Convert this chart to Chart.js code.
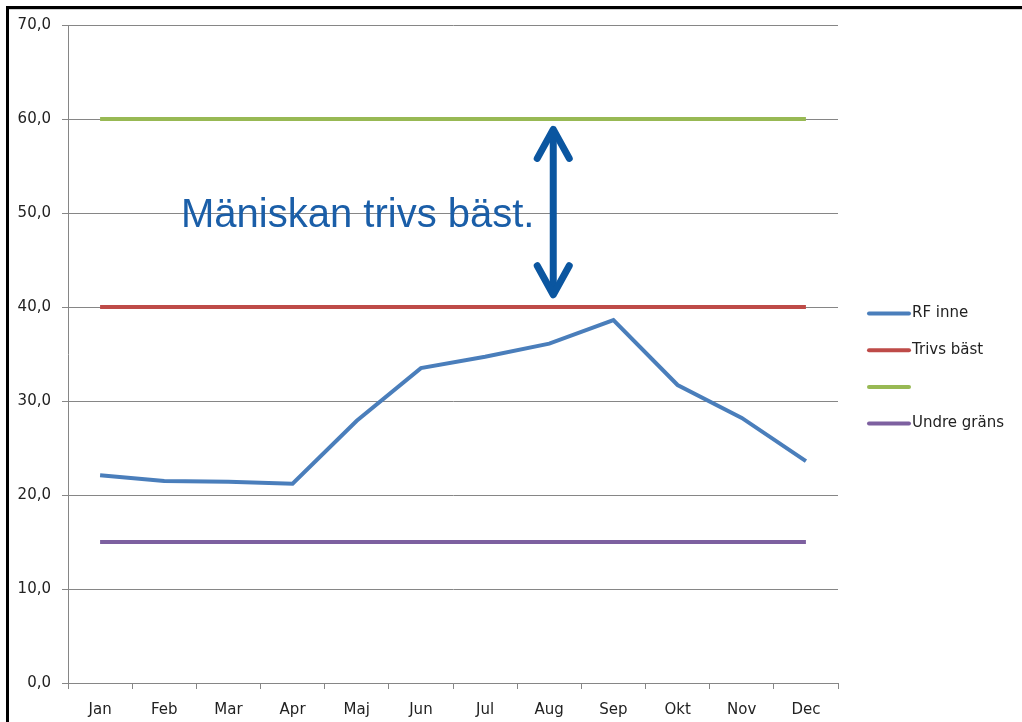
<!DOCTYPE html>
<html>
<head>
<meta charset="utf-8">
<script src="https://cdn.jsdelivr.net/npm/chart.js@4"></script>
<style>
  body { margin: 0; background: #fff; }
  canvas { display: block; }
</style>
</head>
<body>
<canvas id="grafRF" width="1022" height="722"></canvas>
<script>
const manader = ['Jan', 'Feb', 'Mar', 'Apr', 'Maj', 'Jun', 'Jul', 'Aug', 'Sep', 'Okt', 'Nov', 'Dec'];
const rfInne = [22.1, 21.5, 21.4, 21.2, 27.9, 33.5, 34.7, 36.1, 38.6, 31.7, 28.2, 23.6];
const trivsBast = [40, 40, 40, 40, 40, 40, 40, 40, 40, 40, 40, 40];
const ovreGrans = [60, 60, 60, 60, 60, 60, 60, 60, 60, 60, 60, 60];
const undreGrans = [15, 15, 15, 15, 15, 15, 15, 15, 15, 15, 15, 15];
const yTicks = [0, 10, 20, 30, 40, 50, 60, 70];
const anteckning = 'Mäniskan trivs bäst.';

const typsnitt = "'DejaVu Sans', sans-serif";

// ram, pil, text och legend ritas här
const extraRitning = {
  id: 'extraRitning',
  afterDraw(chart) {
    const ctx = chart.ctx;
    const x = chart.scales.x;
    const y = chart.scales.y;
    ctx.save();

    // svart ram uppe och till vänster
    ctx.fillStyle = '#000';
    ctx.fillRect(6, 6, 1016, 3);
    ctx.fillRect(6, 6, 3, 716);
    ctx.fillStyle = '#d0d0d0';
    ctx.fillRect(9, 9, 1013, 1);

    // texten
    ctx.fillStyle = '#1a5ea8';
    ctx.font = "40px 'Liberation Sans', Arial, sans-serif";
    ctx.textBaseline = 'alphabetic';
    ctx.fillText(anteckning, 181, 227);

    // dubbelpil mellan 40 och 60
    const px = x.getPixelForValue(7) + 4;
    const topp = y.getPixelForValue(58.9);
    const botten = y.getPixelForValue(41.3);
    ctx.strokeStyle = '#0b56a0';
    ctx.lineWidth = 7;
    ctx.lineCap = 'round';
    ctx.lineJoin = 'round';
    ctx.beginPath();
    ctx.moveTo(px, topp + 2);
    ctx.lineTo(px, botten - 2);
    ctx.stroke();
    ctx.beginPath();
    ctx.moveTo(px - 16, topp + 29);
    ctx.lineTo(px, topp);
    ctx.lineTo(px + 16, topp + 29);
    ctx.stroke();
    ctx.beginPath();
    ctx.moveTo(px - 16, botten - 29);
    ctx.lineTo(px, botten);
    ctx.lineTo(px + 16, botten - 29);
    ctx.stroke();

    // legend
    ctx.font = '15px ' + typsnitt;
    ctx.textBaseline = 'middle';
    ctx.lineCap = 'round';
    ctx.lineWidth = 4;
    chart.data.datasets.forEach((ds, i) => {
      const ly = 313.5 + i * 36.7;
      ctx.strokeStyle = ds.borderColor;
      ctx.beginPath();
      ctx.moveTo(869, ly);
      ctx.lineTo(909, ly);
      ctx.stroke();
      ctx.fillStyle = '#222';
      ctx.fillText(ds.label, 912, ly);
    });
    ctx.restore();
  }
};

const grafRF = new Chart(document.getElementById('grafRF'), {
  type: 'line',
  data: {
    labels: manader,
    datasets: [
      { label: 'RF inne', data: rfInne, borderColor: '#4a7ebb', borderWidth: 4 },
      { label: 'Trivs bäst', data: trivsBast, borderColor: '#be4b48', borderWidth: 4 },
      { label: '', data: ovreGrans, borderColor: '#98b954', borderWidth: 4 },
      { label: 'Undre gräns', data: undreGrans, borderColor: '#7d60a0', borderWidth: 4 }
    ]
  },
  options: {
    responsive: false,
    animation: false,
    devicePixelRatio: 1,
    elements: { point: { radius: 0 }, line: { tension: 0, borderCapStyle: 'butt' } },
    layout: { padding: { top: 25, right: 184, left: 0, bottom: 0 } },
    plugins: { legend: { display: false }, tooltip: { enabled: false } },
    scales: {
      x: {
        offset: true,
        grid: { offset: true, drawOnChartArea: false, drawTicks: true, tickLength: 6, color: '#868686' },
        border: { color: '#868686', width: 1 },
        ticks: { color: '#222', font: { family: typsnitt, size: 15 }, padding: 12, maxRotation: 0 },
        afterFit(scale) { scale.height = 39; }
      },
      y: {
        min: 0,
        max: 70,
        afterBuildTicks(scale) { scale.ticks = yTicks.map(v => ({ value: v })); },
        grid: { color: '#868686', tickLength: 6 },
        border: { color: '#868686', width: 1 },
        ticks: {
          color: '#222',
          font: { family: typsnitt, size: 15 },
          padding: 11,
          callback: v => v.toFixed(1).replace('.', ',')
        },
        afterFit(scale) { scale.width = 68; }
      }
    }
  },
  plugins: [extraRitning]
});
</script>
</body>
</html>
